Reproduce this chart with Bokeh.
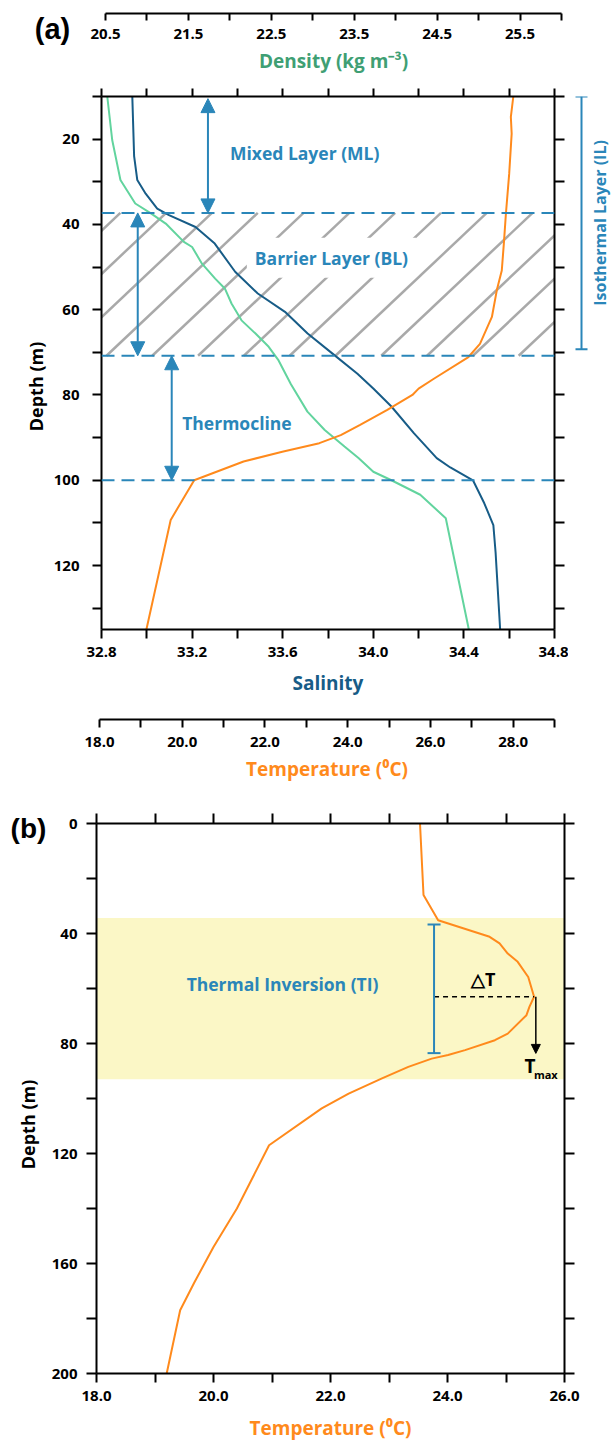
from math import pi
from bokeh.plotting import figure
from bokeh.layouts import column, row
from bokeh.models import (Range1d, LinearAxis, FixedTicker, NumeralTickFormatter, Span,
                          Arrow, NormalHead, TeeHead, Label, BoxAnnotation)
from bokeh.embed import file_html
from bokeh.resources import INLINE

# ---------------- data : panel (a) ----------------
sal_depth = [10, 24, 29.6, 32.8, 36.3, 37.8, 40.6, 44.5, 51.1, 56.2, 60.5, 65.6, 70.3, 75, 78.5,
             82.7, 89, 94.8, 97, 100, 105.4, 110.5, 117, 135]
sal_val = [32.936, 32.944, 32.958, 32.995, 33.046, 33.098, 33.215, 33.30, 33.39, 33.49, 33.61,
           33.71, 33.82, 33.93, 34.00, 34.08, 34.18, 34.28, 34.34, 34.44, 34.49, 34.53, 34.54, 34.56]

dens_depth = [10, 20.2, 29.6, 35.1, 37.4, 39.8, 44.1, 45.3, 49.2, 52.7, 55.1, 58.6, 62.5, 65.6,
              68.7, 71.9, 77.5, 83.9, 88.2, 92.1, 94.8, 98, 100, 103.4, 108.9, 135]
dens_val = [20.57, 20.63, 20.73, 20.91, 21.10, 21.28, 21.50, 21.60, 21.72, 21.88, 22.00, 22.08,
            22.20, 22.37, 22.53, 22.65, 22.80, 23.00, 23.21, 23.45, 23.62, 23.80, 24.02, 24.37,
            24.68, 24.96]

tempa_depth = [10, 14.8, 18.7, 28.1, 37.5, 44.5, 50.8, 55.4, 61.7, 68, 71.1, 76.2, 78.5, 80, 83.5,
               87, 89.4, 91.3, 93.3, 95.6, 100, 109.3, 135]
tempa_val = [28.00, 27.94, 27.96, 27.90, 27.82, 27.77, 27.72, 27.60, 27.48, 27.19, 26.91, 26.07,
             25.70, 25.55, 24.94, 24.28, 23.81, 23.29, 22.39, 21.45, 20.25, 19.68, 19.09]

# layer boundaries (m)
ML_BOTTOM = 37.3
BL_BOTTOM = 70.8
TC_BOTTOM = 100.0
IL_TOP = 10.0
IL_BOTTOM = 69.3

# ---------------- data : panel (b) ----------------
tb_depth = [0, 26, 35.2, 41.2, 43.6, 47.3, 50.3, 55.8, 63, 66.7, 69.7, 76.4, 78.8, 82.4, 84.2,
            85.5, 88.5, 92.7, 98.2, 103.6, 117, 140, 154, 167, 177, 200]
tb_val = [23.53, 23.59, 23.84, 24.72, 24.89, 25.03, 25.20, 25.38, 25.48, 25.40, 25.35, 25.03,
          24.81, 24.30, 24.01, 23.73, 23.33, 22.88, 22.31, 21.85, 20.95, 20.4, 20.0, 19.67,
          19.43, 19.2]
TI_TOP = 34.4
TI_BOTTOM = 93.0

# ---------------- ticks ----------------
sal_major = [32.8, 33.2, 33.6, 34.0, 34.4, 34.8]
sal_minor = [33.0, 33.4, 33.8, 34.2, 34.6]
dens_major = [20.5, 21.5, 22.5, 23.5, 24.5, 25.5]
dens_minor = [21.0, 22.0, 23.0, 24.0, 25.0, 26.0]
tempa_major = [18, 20, 22, 24, 26, 28]
tempa_minor = [19, 21, 23, 25, 27, 29]
deptha_major = [20, 40, 60, 80, 100, 120]
deptha_minor = [10, 30, 50, 70, 90, 110, 130]
tempb_major = [18, 20, 22, 24, 26]
tempb_minor = [19, 21, 23, 25]
depthb_major = [0, 40, 80, 120, 160, 200]
depthb_minor = [20, 60, 100, 140, 180]

BLUE = "#2a86b9"
SAL_C = "#175c87"
DEN_C = "#62d49e"
TMP_C = "#ff8a1c"
DEN_T = "#3f9f74"
HATCH_C = "#a9a9a9"
FONT = "Open Sans"
TICK_SIZE = "15px"
TITLE_SIZE = "19px"
ANN_SIZE = "17.5px"


def axis(ticks, minor=None, label=None, color="black", labels=True, fmt="0.0", tick=9,
         ls=7, ts=8):
    ax = LinearAxis(ticker=FixedTicker(ticks=ticks, minor_ticks=minor or []))
    ax.formatter = NumeralTickFormatter(format=fmt)
    ax.axis_line_width = 2
    ax.axis_line_color = "black"
    ax.major_tick_line_width = 2
    ax.minor_tick_line_width = 2
    ax.major_tick_line_color = "black"
    ax.minor_tick_line_color = "black"
    ax.major_tick_in = 0
    ax.major_tick_out = tick
    ax.minor_tick_in = 0
    ax.minor_tick_out = tick
    if labels:
        ax.major_label_text_font = FONT
        ax.major_label_text_font_style = "bold"
        ax.major_label_text_font_size = TICK_SIZE
        ax.major_label_text_color = "black"
        ax.major_label_standoff = ls
    else:
        # tick marks only: labels are neither measured nor drawn
        ax.major_label_text_font_size = "0px"
        ax.major_label_text_color = None
        ax.major_label_standoff = 0
    if label:
        ax.axis_label = label
        ax.axis_label_text_font = FONT
        ax.axis_label_text_font_style = "bold"
        ax.axis_label_text_font_size = TITLE_SIZE
        ax.axis_label_text_color = color
        ax.axis_label_standoff = ts
    return ax


def base_fig(**kw):
    return figure(toolbar_location=None, output_backend="svg", x_axis_type=None,
                  y_axis_type=None, outline_line_color=None, background_fill_color="white",
                  border_fill_color="white", frame_align=False, **kw)


def ann_label(p, text, x, y, size=ANN_SIZE, color=BLUE, style="bold", font=FONT, **kw):
    lab = Label(x=x, y=y, text=text, text_font=font, text_font_size=size,
                text_font_style=style, text_color=color, text_align="center",
                text_baseline="middle", **kw)
    p.add_layout(lab)
    return lab


# ================= row 1 : "(a)" + density axis =================
fa = base_fig(width=90, height=88, x_range=Range1d(0, 90), y_range=Range1d(88, 0), min_border=0)
ann_label(fa, "(a)", 52, 28.5, size="29px", color="black", font="Liberation Sans")

fd = base_fig(width=522, height=88, x_range=Range1d(20.5, 26.0), y_range=Range1d(0, 1),
              min_border_left=15, min_border_right=51, min_border_top=10, min_border_bottom=75)
fd.add_layout(axis(dens_major, dens_minor, "Density (kg m\u207b\u00b3)", DEN_T, tick=7, ls=8, ts=6),
              "below")

# ================= row 2 : panel (a) =================
fl = base_fig(width=50, height=627, x_range=Range1d(0, 50), y_range=Range1d(715, 88), min_border=0)
ann_label(fl, "Depth (m)", 35, 386, size="18px", color="black", angle=pi / 2)

pa = base_fig(width=518, height=627, x_range=Range1d(32.8, 34.8), y_range=Range1d(135, 10),
              min_border_left=49, min_border_right=14, min_border_top=8, min_border_bottom=86)
pa.extra_x_ranges = {"dens": Range1d(20.5, 26.0), "temp": Range1d(18, 29)}

pa.add_layout(axis(sal_major, sal_minor, "Salinity", SAL_C, tick=9, ls=8, ts=10), "below")
pa.add_layout(axis(sal_major + sal_minor, None, labels=False, tick=8), "above")
pa.add_layout(axis(deptha_major, deptha_minor, fmt="0", tick=9, ls=13), "left")
pa.add_layout(axis(deptha_major, deptha_minor, labels=False, tick=10), "right")

# hatch of the barrier layer (diagonal lines, computed from the band and a spacing)
PX_PER_SAL = 455 / (34.8 - 32.8)
PX_PER_M = 533 / (135 - 10)
HATCH_SPACING = 46 / PX_PER_SAL
HATCH_DX = (BL_BOTTOM - ML_BOTTOM) * PX_PER_M / 0.94 / PX_PER_SAL
hx0 = [32.822 + k * HATCH_SPACING for k in range(-5, 11)]
pa.segment(x0=hx0, y0=[BL_BOTTOM] * len(hx0), x1=[x + HATCH_DX for x in hx0],
           y1=[ML_BOTTOM] * len(hx0), line_color=HATCH_C, line_width=2.5)

pa.line(dens_val, dens_depth, x_range_name="dens", line_color=DEN_C, line_width=2)
pa.line(sal_val, sal_depth, line_color=SAL_C, line_width=2)
pa.line(tempa_val, tempa_depth, x_range_name="temp", line_color=TMP_C, line_width=2)

for d in (ML_BOTTOM, BL_BOTTOM, TC_BOTTOM):
    pa.add_layout(Span(location=d, dimension="width", line_color=BLUE, line_width=2,
                       line_dash="13 7"))


def dbl_arrow(p, x, y0, y1, color=BLUE, size=14, width=2):
    p.add_layout(Arrow(start=NormalHead(size=size, fill_color=color, line_color=color),
                       end=NormalHead(size=size, fill_color=color, line_color=color),
                       x_start=x, y_start=y0, x_end=x, y_end=y1, line_color=color,
                       line_width=width))


dbl_arrow(pa, 33.27, 10.5, ML_BOTTOM)
dbl_arrow(pa, 32.96, ML_BOTTOM, BL_BOTTOM)
dbl_arrow(pa, 33.11, BL_BOTTOM, TC_BOTTOM)

ann_label(pa, "Mixed Layer (ML)", 33.697, 23.2)
ann_label(pa, "Barrier Layer (BL)", 33.815, 47.8, background_fill_color="white",
          background_fill_alpha=1.0, padding=8)
ann_label(pa, "Thermocline", 33.398, 86.6)

# isothermal layer bracket, right of panel (a)
side = base_fig(width=44, height=627, x_range=Range1d(568, 612), y_range=pa.y_range,
                min_border_left=0, min_border_right=0, min_border_top=8, min_border_bottom=86)
side.add_layout(Arrow(start=TeeHead(size=12, line_color=BLUE, line_width=2),
                      end=TeeHead(size=12, line_color=BLUE, line_width=2),
                      x_start=581, y_start=IL_TOP, x_end=581, y_end=IL_BOTTOM,
                      line_color=BLUE, line_width=2))
ann_label(side, "Isothermal Layer (IL)", 599, (IL_TOP + IL_BOTTOM) / 2, size="16px",
          angle=pi / 2)

# ================= row 3 : temperature axis of panel (a) =================
ft = base_fig(width=612, height=75, x_range=Range1d(18, 29), y_range=Range1d(0, 1),
              min_border_left=99, min_border_right=58, min_border_top=1, min_border_bottom=71)
ft.add_layout(axis(tempa_major, tempa_minor, "Temperature (\u2070C)", TMP_C, tick=8, ls=9, ts=6),
              "below")

# ================= row 4 : panel (b) =================
fb = base_fig(width=48, height=654, x_range=Range1d(0, 48), y_range=Range1d(1444, 790),
              min_border=0)
ann_label(fb, "(b)", 28, 828, size="28px", color="black", font="Liberation Sans")
ann_label(fb, "Depth (m)", 27, 1124, size="18px", color="black", angle=pi / 2)

pb = base_fig(width=564, height=654, x_range=Range1d(18, 26), y_range=Range1d(200, 0),
              min_border_left=46, min_border_right=48, min_border_top=33, min_border_bottom=71)
pb.add_layout(BoxAnnotation(bottom=TI_TOP, top=TI_BOTTOM, fill_color="#fbf7c6", fill_alpha=1,
                            line_alpha=0, level="underlay"))
pb.add_layout(axis(tempb_major, tempb_minor, "Temperature (\u2070C)", TMP_C, tick=9, ls=8, ts=11),
              "below")
pb.add_layout(axis(tempb_major + tempb_minor, None, labels=False, tick=10), "above")
pb.add_layout(axis(depthb_major, depthb_minor, fmt="0", tick=10, ls=9), "left")
pb.add_layout(axis(depthb_major, depthb_minor, labels=False, tick=10), "right")

pb.line(tb_val, tb_depth, line_color=TMP_C, line_width=2)

i_max = max(range(len(tb_val)), key=lambda i: tb_val[i])
T_MAX = tb_val[i_max]
D_MAX = tb_depth[i_max]
TI_X = 23.77

pb.add_layout(Arrow(start=TeeHead(size=13, line_color=BLUE, line_width=2),
                    end=TeeHead(size=13, line_color=BLUE, line_width=2),
                    x_start=TI_X, y_start=36.7, x_end=TI_X, y_end=83.5,
                    line_color=BLUE, line_width=2))
pb.segment(x0=[TI_X], y0=[D_MAX], x1=[T_MAX], y1=[D_MAX], line_color="black", line_width=1.5,
           line_dash="5 4")
pb.add_layout(Arrow(end=NormalHead(size=9, fill_color="black", line_color="black"),
                    x_start=T_MAX + 0.03, y_start=D_MAX, x_end=T_MAX + 0.03, y_end=83.6,
                    line_color="black", line_width=1.5))

ann_label(pb, "Thermal Inversion (TI)", 21.18, 58.2)
ann_label(pb, "\u25b3T", 24.61, 56.4, size="18px", color="black")
ann_label(pb, "T", 25.41, 88.0, size="19px", color="black")
ann_label(pb, "max", 25.68, 91.3, size="11px", color="black")

layout = column(row(fa, fd, spacing=0), row(fl, pa, side, spacing=0), ft, row(fb, pb, spacing=0),
                spacing=0)
open("out.html", "w").write(file_html(layout, INLINE))
